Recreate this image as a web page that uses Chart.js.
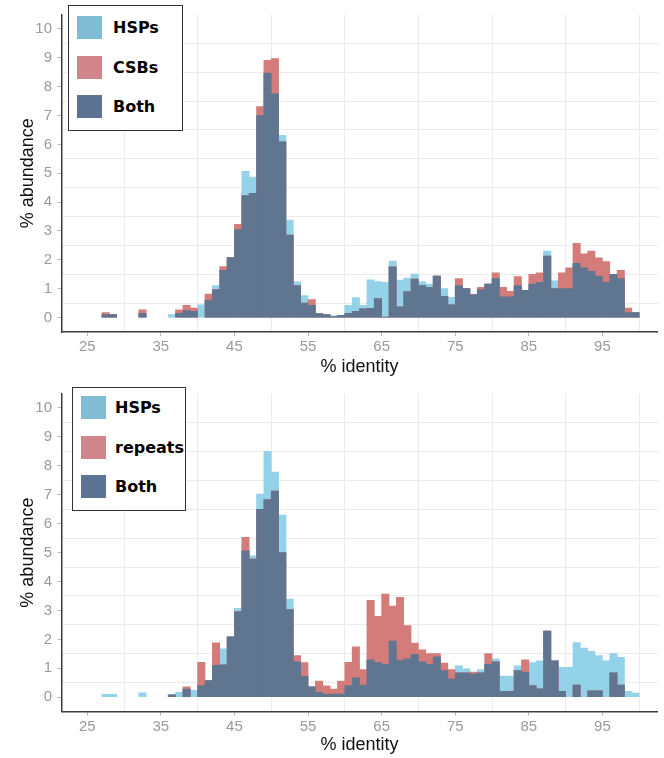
<!DOCTYPE html>
<html>
<head>
<meta charset="utf-8">
<script src="https://cdn.jsdelivr.net/npm/chart.js@4.4.1/dist/chart.umd.min.js"></script>
<style>
  body { margin: 0; background: #fff; width: 664px; height: 758px; overflow: hidden; position: relative; }
  canvas { position: absolute; left: 0; }
  .legend { position: absolute; background: #fff; border: 1.5px solid #333; box-sizing: border-box; }
  .legend .row { position: absolute; left: 8px; display: flex; align-items: center; height: 23px; }
  .legend .sw { width: 25px; height: 23px; margin-right: 11px; }
  #legBottom .sw { margin-right: 9px; }
  .legend span { font: bold 16px "DejaVu Sans", sans-serif; color: #000; }
</style>
</head>
<body>
<canvas id="top" width="664" height="379" style="top:0"></canvas>
<canvas id="bottom" width="664" height="379" style="top:379px"></canvas>
<div class="legend" id="legTop" style="left:68px;top:5px;width:115px;height:126px"></div>
<div class="legend" id="legBottom" style="left:72px;top:387px;width:114px;height:124px"></div>
<script>
// % identity bins (left edge of each 1% bin)
const bins = [26, 27, 28, 29, 30, 31, 32, 33, 34, 35, 36, 37, 38, 39, 40, 41, 42, 43, 44, 45,
              46, 47, 48, 49, 50, 51, 52, 53, 54, 55, 56, 57, 58, 59, 60, 61, 62, 63, 64, 65,
              66, 67, 68, 69, 70, 71, 72, 73, 74, 75, 76, 77, 78, 79, 80, 81, 82, 83, 84, 85,
              86, 87, 88, 89, 90, 91, 92, 93, 94, 95, 96, 97, 98, 99];

// top panel: HSPs vs CSBs
const hspTop = [0, 0.1, 0.1, 0, 0, 0, 0.15, 0, 0, 0, 0.1, 0.15, 0.24, 0.22, 0.44, 0.61, 1.11, 1.64, 2.08, 3.05,
                5.07, 4.87, 7.0, 8.47, 7.75, 6.31, 3.38, 1.24, 0.76, 0.42, 0.14, 0.1, 0.06, 0.08, 0.42, 0.69, 0.42, 1.31, 1.25, 1.22,
                1.96, 1.3, 1.37, 1.51, 1.24, 1.16, 1.44, 1.0, 0.7, 1.11, 1.0, 0.8, 0.97, 1.16, 1.35, 0.72, 0.72, 1.11, 0.94, 1.16,
                1.22, 2.3, 1.27, 1.0, 1.0, 1.88, 1.72, 1.6, 1.44, 1.22, 1.5, 1.35, 0.17, 0.17];
const csbTop = [0, 0.17, 0.1, 0, 0, 0, 0.27, 0, 0, 0, 0, 0.27, 0.42, 0.33, 0, 0.81, 0.97, 1.77, 2.08, 3.23,
                4.23, 4.3, 7.31, 8.91, 8.97, 6.09, 2.86, 1.11, 0.5, 0.62, 0.14, 0.1, 0.03, 0.08, 0.15, 0.22, 0.3, 0.32, 0.66, 0.02,
                1.76, 0.37, 0.9, 1.33, 1.11, 1.05, 1.44, 0.74, 0.44, 1.35, 1.0, 0.8, 1.05, 1.16, 1.55, 1.05, 0.91, 1.42, 0.94, 1.5,
                1.55, 2.13, 1.0, 1.55, 1.72, 2.57, 2.21, 2.3, 2.07, 1.94, 1.5, 1.64, 0.33, 0.17];

// bottom panel: HSPs vs repeats
const hspBottom = [0, 0.1, 0.1, 0, 0, 0, 0.15, 0, 0, 0, 0.08, 0.17, 0.28, 0.24, 0.4, 0.58, 1.1, 1.67, 2.09, 3.07,
                   5.06, 4.89, 7.02, 8.5, 7.78, 6.3, 3.39, 1.22, 0.72, 0.36, 0.17, 0.11, 0.11, 0.11, 0.4, 0.67, 0.42, 1.29, 1.2, 1.14,
                   1.94, 1.28, 1.33, 1.48, 1.22, 1.14, 1.4, 0.92, 0.64, 1.09, 0.98, 0.8, 0.96, 1.14, 1.33, 0.73, 0.73, 1.09, 0.87, 1.2,
                   1.26, 2.29, 1.26, 1.03, 1.03, 1.89, 1.7, 1.59, 1.44, 1.26, 1.51, 1.38, 0.2, 0.14];
const repeatsBottom = [0, 0, 0, 0, 0, 0, 0, 0, 0, 0, 0.08, 0, 0.36, 0, 1.21, 0.58, 1.88, 1.12, 2.09, 2.96,
                       5.53, 4.78, 6.5, 6.83, 7.13, 5.0, 3.03, 1.44, 1.2, 0.36, 0.56, 0.39, 0.28, 0.56, 1.21, 1.74, 0.96, 3.35, 2.8, 3.57,
                       3.15, 3.45, 2.48, 1.87, 1.64, 1.51, 1.51, 1.18, 0.96, 0.84, 0.84, 0.87, 0.84, 1.51, 1.22, 0.2, 0.2, 0.92, 1.29, 0.4,
                       0.29, 2.29, 1.26, 0.2, 0, 0.42, 0, 0.22, 0.22, 0, 0.84, 0.42, 0, 0];

const xTicks = [25, 35, 45, 55, 65, 75, 85, 95];
const yTicks = [0, 1, 2, 3, 4, 5, 6, 7, 8, 9, 10];
const xGridLines = [30, 40, 50, 60, 70, 80, 90, 100];
const yGridLines = [0.5, 1.5, 2.5, 3.5, 4.5, 5.5, 6.5, 7.5, 8.5, 9.5];

const C_HSP = '#94d2e9';
const C_RED = '#d47c79';
const C_BOTH = '#607690';
const L_HSP = '#80bdd5';
const L_RED = '#d0858a';
const L_BOTH = '#5d7393';

Chart.defaults.font.family = "'Liberation Sans', Arial, sans-serif";

// empty bins are left out so no hairline is drawn at zero
function pts(vals) {
  return bins.map((b, i) => ({ x: b + 0.5, y: vals[i] > 0 ? vals[i] : null }));
}

function makeChart(id, hsp, other, otherLabel, padTop, axisH, tickPad, titlePad) {
  const both = hsp.map((v, i) => Math.min(v, other[i]));
  return new Chart(document.getElementById(id), {
    type: 'bar',
    data: {
      datasets: [
        { label: 'Both', data: pts(both), backgroundColor: C_BOTH, order: 0 },
        { label: otherLabel, data: pts(other), backgroundColor: C_RED, order: 1 },
        { label: 'HSPs', data: pts(hsp), backgroundColor: C_HSP, order: 2 }
      ]
    },
    options: {
      responsive: false,
      animation: false,
      layout: { padding: { top: padTop, right: 6.4, left: 0, bottom: 0 } },
      plugins: { legend: { display: false }, tooltip: { enabled: false } },
      datasets: { bar: { grouped: false, barPercentage: 1, categoryPercentage: 1, borderWidth: 0 } },
      scales: {
        x: {
          type: 'linear', min: 21.5, max: 102.5, bounds: 'data', offset: false,
          afterBuildTicks: s => { s.ticks = xTicks.map(v => ({ value: v })); },
          afterFit: s => { s.height = axisH; },
          ticks: { autoSkip: false, maxRotation: 0, padding: tickPad, color: '#9a9a9a', font: { size: 15 }, callback: v => String(v) },
          grid: { offset: false, drawOnChartArea: false, tickLength: 4, color: '#b8b8b8' },
          border: { display: true, color: '#3c3c3c', width: 1.5 },
          title: { display: true, text: '% identity', color: '#111', font: { size: 18 }, padding: { top: 0, bottom: titlePad } }
        },
        y: {
          type: 'linear', min: -0.5, max: 10.5, bounds: 'data',
          afterBuildTicks: s => { s.ticks = yTicks.map(v => ({ value: v })); },
          afterFit: s => { s.width = 61.5; },
          ticks: { padding: 5.5, color: '#9a9a9a', font: { size: 15 }, callback: v => String(v) },
          grid: { drawOnChartArea: false, tickLength: 4, color: '#b8b8b8' },
          border: { display: true, color: '#3c3c3c', width: 1.5 },
          title: { display: true, text: '% abundance', color: '#111', font: { size: 18 }, padding: { top: 17, bottom: 0 } }
        },
        xg: {
          type: 'linear', position: 'top', min: 21.5, max: 102.5, bounds: 'data', offset: false,
          afterBuildTicks: s => { s.ticks = xGridLines.map(v => ({ value: v })); },
          afterFit: s => { s.height = 0; },
          ticks: { display: false },
          grid: { offset: false, color: '#ebebeb', drawTicks: false },
          border: { display: false }
        },
        yg: {
          type: 'linear', position: 'right', min: -0.5, max: 10.5, bounds: 'data',
          afterBuildTicks: s => { s.ticks = yGridLines.map(v => ({ value: v })); },
          afterFit: s => { s.width = 0; },
          ticks: { display: false },
          grid: { color: '#ebebeb', drawTicks: false },
          border: { display: false }
        }
      }
    }
  });
}

function makeLegend(id, labels, colors, rowTops) {
  const box = document.getElementById(id);
  labels.forEach((lab, i) => {
    const row = document.createElement('div');
    row.className = 'row';
    row.style.top = rowTops[i] + 'px';
    row.innerHTML = '<div class="sw" style="background:' + colors[i] + '"></div><span>' + lab + '</span>';
    box.appendChild(row);
  });
}

makeChart('top', hspTop, csbTop, 'CSBs', 1, 47, 2, 1.5);
makeChart('bottom', hspBottom, repeatsBottom, 'repeats', 2.7, 46.3, 2.3, 2.2);

makeLegend('legTop', ['HSPs', 'CSBs', 'Both'], [L_HSP, L_RED, L_BOTH], [9.5, 49.5, 88.5]);
makeLegend('legBottom', ['HSPs', 'repeats', 'Both'], [L_HSP, L_RED, L_BOTH], [7.5, 47.5, 86.5]);
</script>
</body>
</html>
